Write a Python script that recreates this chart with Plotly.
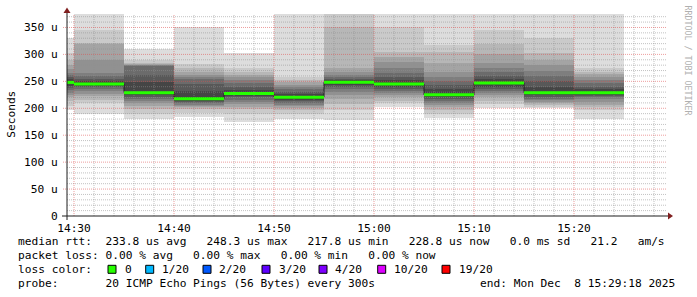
import plotly.graph_objects as go
from datetime import datetime, timedelta

# ---------------- data (microseconds) ----------------
interval_end = ["2025-12-08 14:30:00", "2025-12-08 14:35:00", "2025-12-08 14:40:00",
                "2025-12-08 14:45:00", "2025-12-08 14:50:00", "2025-12-08 14:55:00",
                "2025-12-08 15:00:00", "2025-12-08 15:05:00", "2025-12-08 15:10:00",
                "2025-12-08 15:15:00", "2025-12-08 15:20:00", "2025-12-08 15:25:00"]
median_us = [248.0, 245.0, 229.0, 217.8, 227.5, 220.5, 248.3, 245.0, 225.0, 247.0, 228.6, 228.8]
loss_count = [0, 0, 0, 0, 0, 0, 0, 0, 0, 0, 0, 0]

# 20 sorted ping RTTs per 5-minute step
pings_1430 = [196, 205, 214, 220, 225, 229, 233, 237, 241, 246, 250, 254, 258, 262, 266, 272, 280, 290, 302, 330]
pings_1435 = [190, 209, 215, 222, 226, 232, 236, 239, 242, 244, 246, 250, 255, 260, 265, 290, 320, 322, 345, 380]
pings_1440 = [181, 190, 198, 205, 210, 214, 218, 221, 224, 227, 231, 248, 262, 278, 280, 281, 282, 284, 289, 310]
pings_1445 = [184, 192, 198, 202, 205, 207, 209, 211, 213, 216, 220, 232, 245, 255, 258, 262, 268, 275, 282, 351]
pings_1450 = [175, 190, 198, 203, 208, 212, 216, 220, 223, 226, 229, 234, 240, 246, 252, 258, 262, 268, 274, 302]
pings_1455 = [181, 190, 196, 200, 204, 207, 210, 213, 216, 219, 222, 226, 230, 235, 240, 244, 248, 252, 258, 420]
pings_1500 = [179, 196, 208, 218, 224, 230, 236, 240, 243, 247, 250, 252, 255, 258, 262, 268, 274, 351, 390, 420]
pings_1505 = [203, 209, 214, 220, 224, 228, 232, 236, 240, 244, 247, 252, 258, 265, 275, 285, 296, 305, 351, 380]
pings_1510 = [182, 190, 196, 202, 206, 210, 214, 217, 220, 223, 227, 235, 243, 250, 258, 268, 284, 305, 317, 390]
pings_1515 = [201, 208, 214, 220, 224, 228, 232, 236, 240, 245, 249, 254, 260, 268, 275, 284, 300, 320, 345, 390]
pings_1520 = [200, 203, 206, 209, 212, 215, 218, 221, 224, 227, 231, 240, 250, 260, 270, 280, 290, 302, 330, 385]
pings_1525 = [181, 196, 202, 207, 212, 217, 220, 222, 225, 227, 231, 235, 240, 246, 252, 258, 263, 268, 274, 420]

y_tick_vals = [0, 50, 100, 150, 200, 250, 300, 350]
y_tick_text = ["0", "50 u", "100 u", "150 u", "200 u", "250 u", "300 u", "350 u"]
x_tick_text = ["14:30", "14:40", "14:50", "15:00", "15:10", "15:20"]
x_range = ["2025-12-08 14:29:18", "2025-12-08 15:29:18"]
y_max = 375

stat_median = [233.8, 248.3, 217.8, 228.8]
stat_sd = 0.0
stat_ams = 21.2
stat_loss = [0.00, 0.00, 0.00, 0.00]
loss_labels = ["0", "1/20", "2/20", "3/20", "4/20", "10/20", "19/20"]
loss_colors = ["#26ff00", "#00b8ff", "#0059ff", "#5e00ff", "#7e00ff", "#dd00ff", "#ff0000"]
probe_text = "20 ICMP Echo Pings (56 Bytes) every 300s"
end_text = "end: Mon Dec  8 15:29:18 2025"

# ---------------- geometry ----------------
W, H = 697, 297
L, R, T, B = 67, 667, 14, 216
PW, PH = R - L, B - T


def px(x):
    return (x - L) / PW


def py(y):
    return (B - y) / PH


FONT = "DejaVu Sans Mono"
FS = 11.2
NB = "\u00a0"

pings = [pings_1430, pings_1435, pings_1440, pings_1445, pings_1450, pings_1455,
         pings_1500, pings_1505, pings_1510, pings_1515, pings_1520, pings_1525]
fmt = "%Y-%m-%d %H:%M:%S"
ends = [datetime.strptime(s, fmt) for s in interval_end]
step = timedelta(seconds=300)
centers = [e - step / 2 for e in ends]
width_ms = 300000

fig = go.Figure()

# smoke: nested bands between the i-th lowest and i-th highest ping
n = len(pings[0])
half = n // 2
for ibot in range(1, half + 1):
    itop = n + 1 - ibot
    g = int(190 / half * (half - ibot)) + 50
    col = "#%02x%02x%02x" % (g, g, g)
    lo = [p[ibot - 1] for p in pings]
    hi = [p[itop - 1] for p in pings]
    fig.add_trace(go.Bar(x=centers, base=lo, y=[h - l for h, l in zip(hi, lo)],
                         width=width_ms, marker=dict(color=col, line=dict(width=0)),
                         hoverinfo="skip", showlegend=False))

# median step line
fig.add_trace(go.Scatter(x=[ends[0] - step] + ends, y=median_us + [median_us[-1]],
                         mode="lines", line=dict(color="#202020", width=1, shape="hv"),
                         hoverinfo="skip", showlegend=False))

shapes = []
# grid drawn above smoke, as rrdtool does
t1 = datetime.strptime(x_range[1], fmt)
t = datetime(2025, 12, 8, 14, 30)
minor_v, major_v = [], []
while t < t1:
    (major_v if t.minute % 10 == 0 else minor_v).append(t)
    t += timedelta(minutes=2)
minor_h = [v for v in range(10, y_max, 10) if v % 50]
major_h = [v for v in range(50, y_max, 50)]
GRID = dict(color="rgba(143,143,143,0.55)", width=1, dash="1px,1px")
MGRID = dict(color="rgba(222,79,79,0.55)", width=1, dash="1px,1px")
for tv in minor_v:
    shapes.append(dict(type="line", xref="x", yref="paper", x0=tv, x1=tv, y0=0, y1=1, line=GRID, layer="above"))
for v in minor_h:
    shapes.append(dict(type="line", xref="paper", yref="y", x0=0, x1=1, y0=v, y1=v, line=GRID, layer="above"))
for tv in major_v:
    shapes.append(dict(type="line", xref="x", yref="paper", x0=tv, x1=tv, y0=0, y1=1, line=MGRID, layer="above"))
for v in major_h:
    shapes.append(dict(type="line", xref="paper", yref="y", x0=px(63), x1=1, y0=v, y1=v, line=MGRID, layer="above"))

# loss-coloured median band (~3 px tall), on top of the grid
u_per_px = y_max / PH
loss_map = {0: 0, 1: 1, 2: 2, 3: 3, 4: 4, 10: 5, 19: 6}
x_lo, x_hi = datetime.strptime(x_range[0], fmt), t1
for e, m, c in zip(ends, median_us, loss_count):
    s0 = max(e - step, x_lo)
    shapes.append(dict(type="rect", xref="x", yref="y", x0=s0, x1=e,
                       y0=m - 1.5 * u_per_px, y1=m + 1.5 * u_per_px,
                       fillcolor=loss_colors[loss_map.get(c, 0)], line=dict(width=0), layer="above"))

AX = "rgb(31,31,31)"
ARROW = "rgb(128,31,31)"
# axes
shapes.append(dict(type="line", xref="paper", yref="paper", x0=px(62), x1=px(669), y0=0, y1=0,
                   line=dict(color=AX, width=1), layer="above"))
shapes.append(dict(type="line", xref="paper", yref="paper", x0=0, x1=0, y0=py(220), y1=py(10),
                   line=dict(color=AX, width=1), layer="above"))
# arrows
shapes.append(dict(type="path", xref="paper", yref="paper",
                   path="M %f,%f L %f,%f L %f,%f Z" % (px(668), py(212.5), px(673), py(216), px(668), py(219.5)),
                   fillcolor=ARROW, line=dict(color=ARROW, width=0), layer="above"))
shapes.append(dict(type="path", xref="paper", yref="paper",
                   path="M %f,%f L %f,%f L %f,%f Z" % (px(63.5), py(13), px(67), py(7.5), px(70.5), py(13)),
                   fillcolor=ARROW, line=dict(color=ARROW, width=0), layer="above"))

ann = []


def text(x, y, s, anchor="left", size=FS, color="#000000", angle=0):
    ann.append(dict(xref="paper", yref="paper", x=px(x), y=py(y), text=s.replace(" ", NB),
                    showarrow=False, xanchor=anchor, yanchor="middle", textangle=angle,
                    font=dict(family=FONT, size=size, color=color)))


row1 = ("median rtt:  %.1f us avg   %.1f us max   %.1f us min   %.1f us now   %.1f ms sd   %.1f   am/s"
        % (stat_median[0], stat_median[1], stat_median[2], stat_median[3], stat_sd, stat_ams))
row2 = ("packet loss: %.2f %% avg   %.2f %% max   %.2f %% min   %.2f %% now"
        % tuple(stat_loss))
text(16, 241.7, row1)
text(16, 255.7, row2)
text(16, 269.3, "loss color:")
box_x = [108, 145.7, 203, 262, 319, 377.7, 442]
lab_x = [123, 160, 217, 277, 333, 392, 456.7]
for bx, lx, lab, col in zip(box_x, lab_x, loss_labels, loss_colors):
    shapes.append(dict(type="rect", xref="paper", yref="paper", x0=px(bx), x1=px(bx + 8),
                       y0=py(273.3), y1=py(265.3), fillcolor=col, line=dict(color="#000000", width=1)))
    text(lx, 269.3, lab)
text(16, 283.3, "probe:       " + probe_text)
text(478.3, 283.3, end_text)

# axis title and watermark
text(10.8, 114, "Seconds", anchor="center", angle=-90)
text(687.5, 60, "RRDTOOL / TOBI OETIKER", anchor="center", size=8.3, color="#b0b0b0", angle=90)

fig.update_layout(
    width=W, height=H,
    margin=dict(l=L, r=W - R, t=T, b=H - B, pad=0),
    paper_bgcolor="#ffffff", plot_bgcolor="#ffffff",
    barmode="overlay", bargap=0,
    showlegend=False,
    shapes=shapes, annotations=ann,
    xaxis=dict(type="date", range=x_range, showgrid=False, zeroline=False, showline=False,
               tickvals=[datetime(2025, 12, 8, 14, 30) + timedelta(minutes=10 * i) for i in range(len(x_tick_text))],
               ticktext=x_tick_text, ticks="outside", ticklen=2, tickcolor="rgba(0,0,0,0)",
               tickfont=dict(family=FONT, size=FS, color="#000000"),
               automargin=False, fixedrange=True),
    yaxis=dict(range=[0, y_max], showgrid=False, zeroline=False, showline=False,
               tickvals=y_tick_vals, ticktext=y_tick_text, ticks="outside", ticklen=6,
               tickcolor="rgba(0,0,0,0)",
               tickfont=dict(family=FONT, size=FS, color="#000000"),
               automargin=False, fixedrange=True),
)

fig.write_html("out.html", config={"displayModeBar": False})
